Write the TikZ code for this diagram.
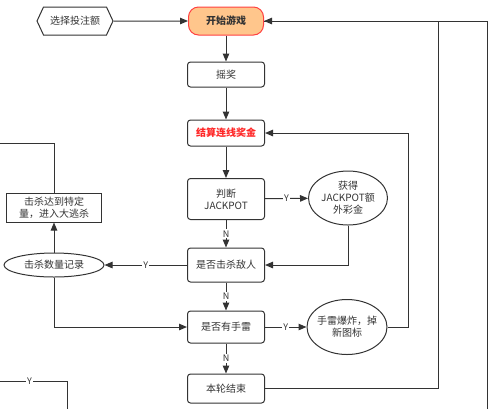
\documentclass[tikz,border=0pt]{standalone}
\usepackage{fontspec}
\setmainfont{Noto Sans CJK SC}
\usetikzlibrary{arrows.meta,shapes.geometric,shapes.symbols}

\begin{document}
\begin{tikzpicture}[
  x=1bp,
  y=-1bp,
  font=\fontsize{10bp}{12bp}\selectfont,
  box/.style={draw=black!80, line width=1bp, rounded corners=3bp, align=center, text=black!80, minimum width=77bp, inner sep=2bp},
  start/.style={box, draw=red!75, fill=orange!45, rounded corners=10bp, minimum width=75bp, minimum height=28bp, font=\fontsize{10bp}{12bp}\selectfont\bfseries},
  hexa/.style={draw=black!80, line width=1bp, shape=signal, signal to=west and east, signal pointer angle=130, text=black!80, minimum width=76bp, minimum height=28bp},
  oval/.style={ellipse, draw=black!80, line width=1bp, align=center, text=black!80, inner sep=1bp},
  arr/.style={-{Triangle[length=8bp,width=6.5bp]}, draw=black!80, line width=1bp},
  wire/.style={draw=black!80, line width=1bp},
  yn/.style={fill=white, text=black!80, inner sep=1bp, font=\fontsize{9bp}{10bp}\selectfont}
]

\useasboundingbox (0,0) rectangle (493,409);

\node[start] (start) at (226,21) {开始游戏};
\node[hexa] (bet) at (75,21) {选择投注额};
\node[box, minimum height=25bp] (spin) at (226,74.5) {摇奖};
\node[box, minimum height=26bp, text=red!85, font=\fontsize{10bp}{12bp}\selectfont\bfseries] (settle) at (226,133) {结算连线奖金};
\node[box, minimum height=41bp] (jackpot) at (226,199) {判断\\JACKPOT};
\node[oval, minimum width=79bp, minimum height=54bp, inner xsep=-2bp] (bonus) at (348,198) {获得\\JACKPOT额\\外彩金};
\node[box, minimum height=34bp] (kill) at (226,265) {是否击杀敌人};
\node[oval, minimum width=100bp, minimum height=24bp] (killCount) at (54,265) {击杀数量记录};
\node[box, rounded corners=0pt, minimum width=94bp, minimum height=29bp] (royale) at (54,207.5) {击杀达到特定\\量，进入大逃杀};
\node[box, minimum height=32bp] (grenade) at (226,327) {是否有手雷};
\node[oval, minimum width=80bp, minimum height=55bp, inner xsep=-2bp] (bomb) at (347,327) {手雷爆炸，掉\\新图标};
\node[box, minimum height=29bp] (endRound) at (226,388.5) {本轮结束};

\coordinate (outRight) at (487,409);
\coordinate (leftTop) at (0,143);
\coordinate (leftBot) at (0,381);
\coordinate (leftBotEnd) at (67,409);

\draw[arr] (bet) -- (start);
\draw[arr] (start) -- (spin);
\draw[arr] (spin) -- (settle);
\draw[arr] (settle) -- (jackpot);
\draw[arr] (jackpot) -- node[yn]{N} (kill);
\draw[arr] (kill) -- node[yn]{N} (grenade);
\draw[arr] (grenade) -- node[yn]{N} (endRound);

\draw[arr] (jackpot) -- node[yn]{Y} (bonus);
\draw[arr] (bonus.south) |- (kill.east);
\draw[arr] (kill) -- node[yn]{Y} (killCount);
\draw[arr] (killCount) -- (royale);
\draw[arr] (killCount.south) |- (grenade.west);
\draw[arr] (grenade) -- node[yn]{Y} (bomb);
\draw[arr] (bomb.east) -- ++(21,0) |- (settle.east);

\draw[wire] (outRight) |- (start.east);
\draw[arr] (endRound.east) -- ++(173,0) |- (start.east);

% cut-off parts
\draw[wire] (royale.north) |- (leftTop);
\draw[wire] (leftBot) -| node[yn, pos=0.22]{Y} (leftBotEnd);

\end{tikzpicture}
\end{document}
